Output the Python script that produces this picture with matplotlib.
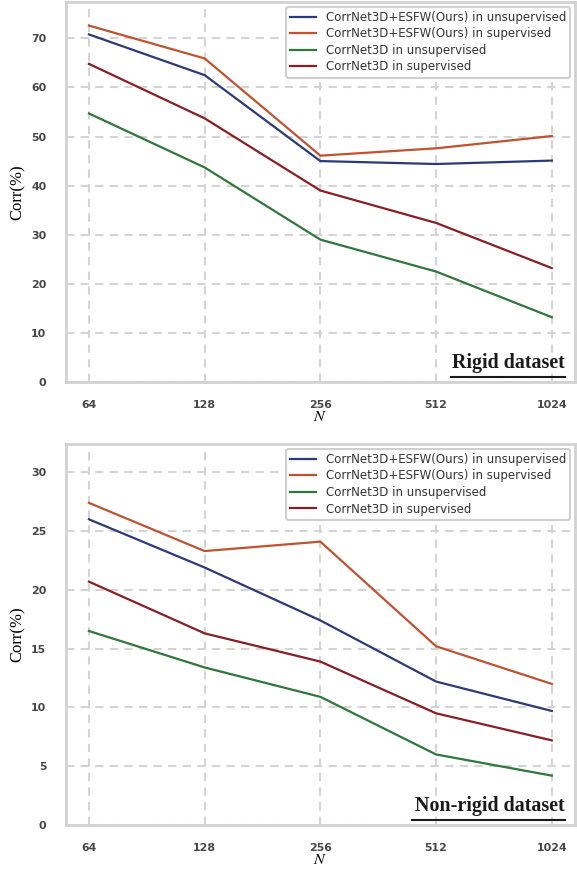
import matplotlib
matplotlib.use("Agg")
import matplotlib.pyplot as plt

n_labels = ["64", "128", "256", "512", "1024"]
series_names = [
    "CorrNet3D+ESFW(Ours) in unsupervised",
    "CorrNet3D+ESFW(Ours) in supervised",
    "CorrNet3D in unsupervised",
    "CorrNet3D in supervised",
]
colors = ["#2e3a78", "#c0532e", "#2f773a", "#8a1e22"]

rigid_ours_unsup = [70.8, 62.5, 45.0, 44.4, 45.1]
rigid_ours_sup = [72.6, 65.9, 46.1, 47.6, 50.1]
rigid_base_unsup = [54.7, 43.7, 29.0, 22.5, 13.2]
rigid_base_sup = [64.8, 53.7, 39.0, 32.4, 23.2]

nonrigid_ours_unsup = [26.0, 21.9, 17.4, 12.2, 9.7]
nonrigid_ours_sup = [27.4, 23.3, 24.1, 15.2, 12.0]
nonrigid_base_unsup = [16.5, 13.4, 10.9, 6.0, 4.2]
nonrigid_base_sup = [20.7, 16.3, 13.9, 9.5, 7.2]


def draw(ax, series, ymax, yticks, title, ul_start):
    x = range(len(n_labels))
    for vals, name, c in zip(series, series_names, colors):
        ax.plot(x, vals, color=c, lw=1.6, label=name)
    ax.set_xlim(-0.2, 4.2)
    ax.set_ylim(0, ymax)
    ax.set_xticks(list(x))
    ax.set_xticklabels(n_labels)
    ax.set_yticks(yticks)
    ax.grid(True, ls=(0, (4, 3)), color="#d4d4d4", lw=1.5)
    ax.set_axisbelow(True)
    for s in ax.spines.values():
        s.set_color("#d2d2d2")
        s.set_linewidth(2)
    ax.tick_params(length=0, pad=14, labelsize=7.9, labelcolor="#474747")
    ax.tick_params(axis="x", pad=13)
    for lab in ax.get_xticklabels() + ax.get_yticklabels():
        lab.set_fontweight("bold")
    ax.set_ylabel("Corr(%)", family="Liberation Serif", fontsize=12, labelpad=4)
    ax.set_xlabel("$N$", fontsize=11.5, labelpad=-1)
    leg = ax.legend(loc="upper right", fontsize=8.5, frameon=True,
                    framealpha=1, fancybox=True, borderpad=0.35,
                    borderaxespad=0.4, handlelength=2.2, labelspacing=0.3)
    leg.get_frame().set_edgecolor("#cfcfcf")
    leg.get_frame().set_linewidth(1.5)
    for t in leg.get_texts():
        t.set_color("#333333")
    ax.text(4.11, 0.036, title, transform=ax.get_xaxis_transform(),
            ha="right", va="baseline", family="Liberation Serif",
            fontweight="bold", fontsize=14.4, color="#1a1a1a")
    # underline under the dataset label
    ax.plot([ul_start, 4.11], [0.013, 0.013], transform=ax.get_xaxis_transform(),
            color="#1a1a1a", lw=1.5, clip_on=False)
    return ax


plt.rcParams["mathtext.fontset"] = "stix"
fig = plt.figure(figsize=(5.77, 8.69), dpi=100)
ax1 = fig.add_axes([0.114, 0.5604, 0.8825, 0.4373])
ax2 = fig.add_axes([0.114, 0.0506, 0.8825, 0.4384])

draw(ax1, [rigid_ours_unsup, rigid_ours_sup, rigid_base_unsup, rigid_base_sup],
     77.4, [0, 10, 20, 30, 40, 50, 60, 70], "Rigid dataset", 3.13)
draw(ax2, [nonrigid_ours_unsup, nonrigid_ours_sup, nonrigid_base_unsup, nonrigid_base_sup],
     32.4, [0, 5, 10, 15, 20, 25, 30], "Non-rigid dataset", 2.79)

fig.savefig("out.png", dpi=100)
